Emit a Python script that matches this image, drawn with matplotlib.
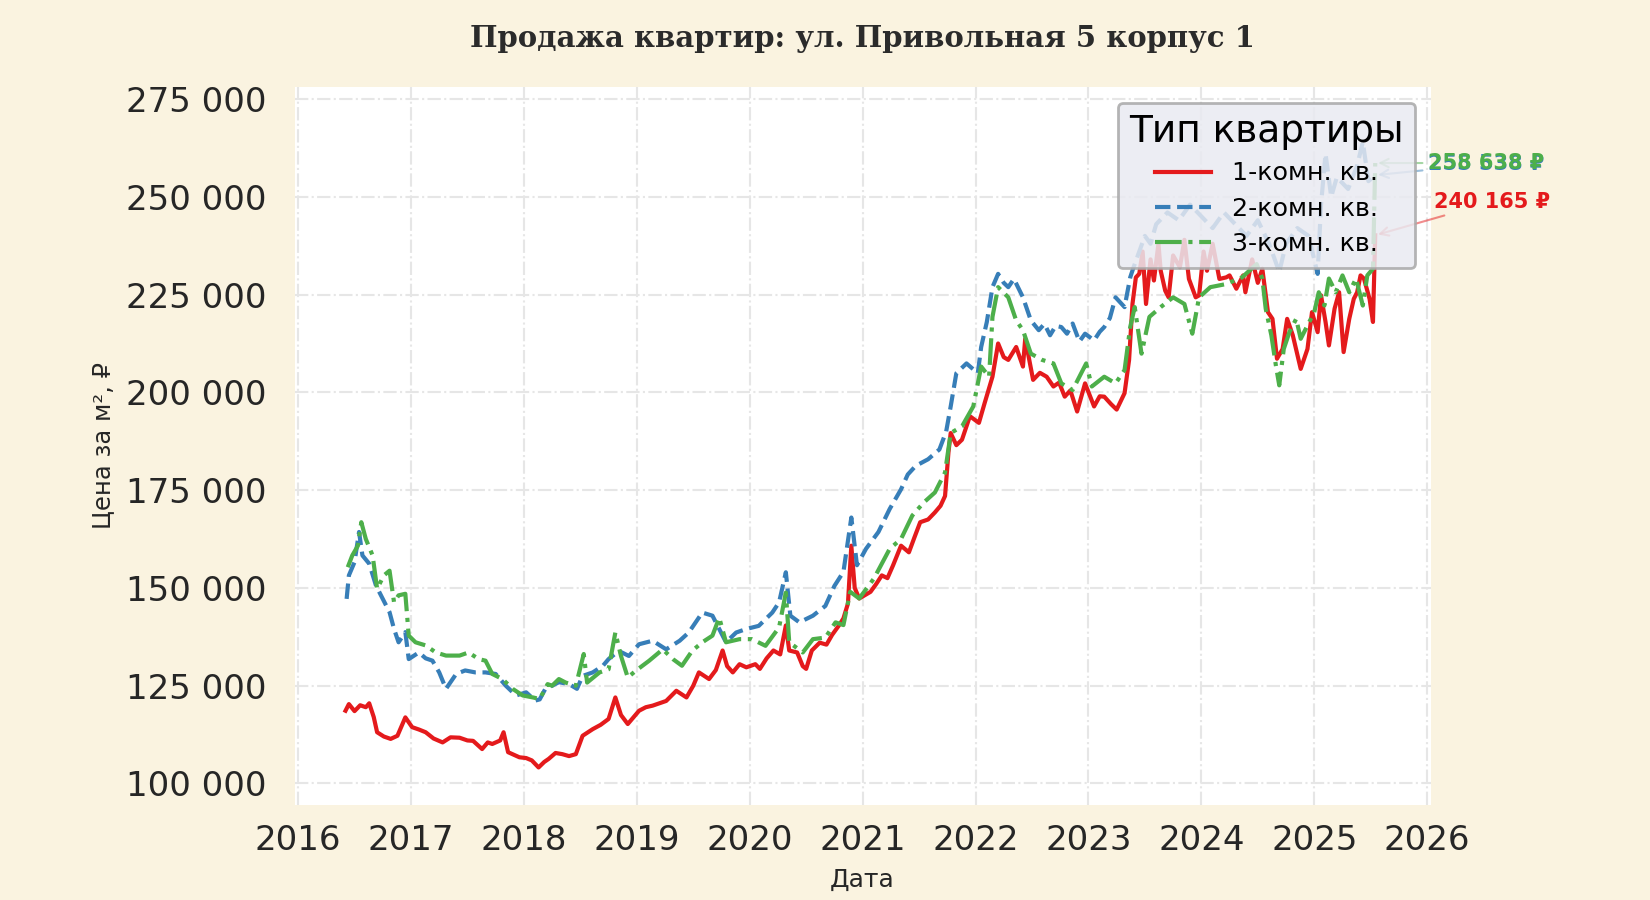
import matplotlib
matplotlib.use("Agg")
import matplotlib.pyplot as plt
from matplotlib.ticker import FuncFormatter, MultipleLocator

# ---- данные (годы в десятичном виде, цена за м2 в тыс. руб.) ----
years_1k = [2016.42, 2016.45, 2016.50, 2016.55, 2016.60, 2016.63, 2016.67, 2016.70, 2016.76, 2016.82,
            2016.88, 2016.95, 2017.01, 2017.07, 2017.13, 2017.20, 2017.28, 2017.35, 2017.43, 2017.50,
            2017.55, 2017.63, 2017.68, 2017.72, 2017.79, 2017.82, 2017.86, 2017.96, 2018.02, 2018.07,
            2018.13, 2018.18, 2018.22, 2018.28, 2018.34, 2018.40, 2018.46, 2018.52, 2018.61, 2018.68,
            2018.75, 2018.81, 2018.86, 2018.92, 2019.02, 2019.08, 2019.14, 2019.20, 2019.26, 2019.35,
            2019.44, 2019.50, 2019.55, 2019.64, 2019.70, 2019.76, 2019.80, 2019.85, 2019.91, 2019.97,
            2020.05, 2020.09, 2020.15, 2020.21, 2020.27, 2020.32, 2020.35, 2020.42, 2020.47, 2020.50,
            2020.55, 2020.62, 2020.68, 2020.73, 2020.79, 2020.83, 2020.87, 2020.90, 2020.93, 2020.97,
            2021.07, 2021.12, 2021.17, 2021.22, 2021.27, 2021.34, 2021.41, 2021.46, 2021.51, 2021.58,
            2021.64, 2021.69, 2021.73, 2021.76, 2021.78, 2021.83, 2021.88, 2021.95, 2022.03, 2022.08,
            2022.15, 2022.20, 2022.25, 2022.29, 2022.36, 2022.42, 2022.44, 2022.51, 2022.57, 2022.63,
            2022.69, 2022.74, 2022.79, 2022.84, 2022.90, 2022.97, 2023.05, 2023.10, 2023.14, 2023.20,
            2023.25, 2023.32, 2023.36, 2023.39, 2023.42, 2023.45, 2023.48, 2023.51, 2023.55, 2023.58,
            2023.62, 2023.64, 2023.68, 2023.71, 2023.75, 2023.81, 2023.85, 2023.89, 2023.95, 2023.98,
            2024.02, 2024.05, 2024.10, 2024.16, 2024.22, 2024.25, 2024.31, 2024.37, 2024.39, 2024.45,
            2024.50, 2024.54, 2024.59, 2024.63, 2024.67, 2024.72, 2024.76, 2024.81, 2024.88, 2024.94,
            2024.98, 2025.03, 2025.06, 2025.10, 2025.13, 2025.18, 2025.22, 2025.26, 2025.31, 2025.35,
            2025.38, 2025.41, 2025.44, 2025.49, 2025.52, 2025.54]
price_1k = [118.6, 120.3, 118.5, 120.0, 119.5, 120.5, 117.0, 113.1, 112.0, 111.4,
            112.2, 116.9, 114.4, 113.8, 113.1, 111.5, 110.5, 111.8, 111.7, 111.0,
            110.9, 108.8, 110.5, 110.1, 111.0, 113.1, 108.0, 106.7, 106.5, 105.9,
            104.1, 105.5, 106.3, 107.8, 107.5, 107.0, 107.5, 112.2, 113.9, 115.0,
            116.5, 122.0, 117.5, 115.2, 118.6, 119.5, 119.9, 120.5, 121.1, 123.7,
            122.0, 125.0, 128.4, 126.7, 129.0, 134.0, 130.0, 128.4, 130.5, 129.7,
            130.5, 129.3, 132.0, 134.0, 133.0, 140.4, 134.0, 133.5, 130.0, 129.3,
            134.0, 136.0, 135.5, 138.0, 140.4, 142.2, 146.0, 160.8, 150.0, 147.3,
            149.0, 151.0, 153.2, 152.5, 155.8, 160.8, 159.1, 163.0, 166.8, 167.5,
            169.3, 171.0, 173.5, 184.6, 189.6, 186.5, 187.9, 193.9, 192.2, 197.2,
            204.0, 212.5, 209.0, 208.3, 211.6, 206.6, 213.7, 203.2, 205.0, 204.0,
            201.5, 202.5, 198.9, 200.5, 195.1, 202.3, 196.4, 199.0, 198.9, 197.0,
            195.6, 199.8, 208.3, 222.6, 229.4, 230.3, 236.0, 222.6, 234.0, 228.6,
            238.0, 231.1, 226.0, 224.3, 235.0, 232.0, 239.0, 229.0, 224.3, 224.8,
            236.0, 231.1, 238.0, 229.0, 229.4, 229.9, 226.5, 229.9, 225.6, 234.0,
            228.0, 231.6, 220.5, 218.8, 208.6, 211.1, 218.8, 214.6, 206.0, 211.1,
            220.5, 215.4, 224.8, 218.0, 212.0, 221.4, 225.6, 210.3, 218.8, 223.9,
            225.6, 229.9, 229.1, 223.9, 218.0, 240.165]

years_2k = [2016.43, 2016.45, 2016.50, 2016.54, 2016.57, 2016.63, 2016.69, 2016.75, 2016.81, 2016.85,
            2016.89, 2016.95, 2016.98, 2017.07, 2017.13, 2017.19, 2017.25, 2017.31, 2017.40, 2017.48,
            2017.57, 2017.66, 2017.75, 2017.84, 2017.93, 2018.02, 2018.10, 2018.14, 2018.19, 2018.25,
            2018.31, 2018.40, 2018.47, 2018.52, 2018.61, 2018.70, 2018.75, 2018.84, 2018.93, 2019.02,
            2019.14, 2019.26, 2019.38, 2019.46, 2019.54, 2019.58, 2019.67, 2019.73, 2019.79, 2019.88,
            2019.97, 2020.08, 2020.20, 2020.26, 2020.32, 2020.36, 2020.44, 2020.56, 2020.67, 2020.75,
            2020.83, 2020.90, 2020.95, 2021.03, 2021.14, 2021.24, 2021.34, 2021.40, 2021.47, 2021.58,
            2021.68, 2021.74, 2021.78, 2021.83, 2021.92, 2022.02, 2022.05, 2022.10, 2022.15, 2022.20,
            2022.25, 2022.29, 2022.34, 2022.42, 2022.49, 2022.56, 2022.61, 2022.66, 2022.71, 2022.76,
            2022.81, 2022.86, 2022.92, 2022.97, 2023.05, 2023.10, 2023.14, 2023.19, 2023.24, 2023.32,
            2023.37, 2023.40, 2023.45, 2023.50, 2023.55, 2023.60, 2023.70, 2023.80, 2023.90, 2024.00,
            2024.10, 2024.20, 2024.30, 2024.40, 2024.50, 2024.60, 2024.69, 2024.75, 2024.85, 2024.95,
            2025.03, 2025.06, 2025.10, 2025.15, 2025.20, 2025.30, 2025.38, 2025.43, 2025.48, 2025.54]
price_2k = [147.2, 153.2, 156.6, 164.3, 158.3, 156.2, 150.6, 147.2, 143.8, 139.5,
            136.1, 138.7, 131.8, 133.5, 132.0, 131.4, 128.4, 124.2, 128.0, 128.9,
            128.4, 128.4, 128.0, 125.0, 122.5, 123.3, 121.2, 121.5, 124.2, 125.0,
            125.9, 125.4, 124.2, 127.5, 128.4, 130.1, 131.8, 133.9, 132.6, 135.6,
            136.5, 134.3, 136.5, 138.6, 142.0, 143.7, 142.9, 139.5, 136.1, 138.6,
            139.5, 140.3, 143.7, 146.3, 154.0, 142.9, 141.2, 142.9, 145.4, 150.5,
            154.1, 168.0, 155.8, 160.0, 164.3, 170.2, 175.2, 179.0, 181.2, 182.9,
            185.4, 190.0, 196.4, 204.9, 207.4, 204.9, 211.6, 218.0, 226.9, 230.3,
            228.0, 226.9, 229.0, 224.3, 218.4, 215.9, 217.5, 214.6, 217.0, 216.7,
            215.0, 217.6, 213.0, 215.0, 213.3, 215.5, 216.7, 219.0, 224.3, 221.8,
            229.4, 232.0, 236.0, 240.0, 238.0, 243.0, 246.0, 244.0, 248.0, 245.0,
            242.0, 246.0, 243.0, 240.0, 244.0, 238.0, 230.8, 238.0, 242.0, 240.0,
            230.3, 248.0, 261.0, 250.0, 255.0, 252.0, 258.0, 264.0, 254.0, 255.538]

years_3k = [2016.44, 2016.48, 2016.53, 2016.56, 2016.60, 2016.66, 2016.70, 2016.76, 2016.81, 2016.85,
            2016.89, 2016.95, 2016.98, 2017.04, 2017.13, 2017.22, 2017.31, 2017.43, 2017.51, 2017.60,
            2017.66, 2017.72, 2017.81, 2017.90, 2017.99, 2018.08, 2018.14, 2018.21, 2018.25, 2018.31,
            2018.37, 2018.46, 2018.53, 2018.56, 2018.67, 2018.75, 2018.81, 2018.86, 2018.92, 2018.99,
            2019.11, 2019.23, 2019.32, 2019.40, 2019.49, 2019.58, 2019.67, 2019.73, 2019.79, 2019.91,
            2020.02, 2020.14, 2020.26, 2020.32, 2020.35, 2020.47, 2020.56, 2020.67, 2020.76, 2020.83,
            2020.89, 2020.97, 2021.10, 2021.24, 2021.34, 2021.44, 2021.54, 2021.64, 2021.73, 2021.78,
            2021.88, 2021.98, 2022.05, 2022.12, 2022.15, 2022.20, 2022.29, 2022.36, 2022.42, 2022.49,
            2022.59, 2022.69, 2022.76, 2022.86, 2022.98, 2023.03, 2023.14, 2023.24, 2023.32, 2023.37,
            2023.41, 2023.47, 2023.54, 2023.64, 2023.75, 2023.85, 2023.92, 2023.98, 2024.08, 2024.22,
            2024.36, 2024.49, 2024.54, 2024.57, 2024.62, 2024.66, 2024.69, 2024.73, 2024.78, 2024.84,
            2024.88, 2024.94, 2025.00, 2025.04, 2025.09, 2025.13, 2025.19, 2025.25, 2025.31, 2025.37,
            2025.43, 2025.47, 2025.52, 2025.54]
price_3k = [155.3, 158.3, 160.8, 166.8, 162.5, 158.3, 149.8, 153.2, 154.4, 146.3,
            148.1, 148.5, 137.8, 136.1, 135.3, 133.5, 132.7, 132.7, 133.5, 131.8,
            131.4, 128.0, 126.7, 124.2, 122.5, 122.0, 121.6, 125.4, 125.0, 126.7,
            125.8, 125.0, 133.1, 125.8, 128.4, 129.2, 138.6, 132.6, 127.1, 128.8,
            131.4, 134.3, 131.8, 130.1, 133.9, 136.1, 137.8, 142.4, 136.1, 136.9,
            136.9, 135.2, 139.9, 148.8, 136.1, 133.5, 136.9, 137.3, 141.2, 140.5,
            149.0, 147.3, 152.4, 160.0, 162.5, 168.5, 171.8, 174.4, 179.5, 189.6,
            191.3, 196.4, 206.6, 204.0, 219.3, 226.9, 224.3, 218.4, 215.9, 209.9,
            208.3, 207.4, 202.3, 200.6, 207.4, 201.5, 204.0, 202.3, 205.7, 216.7,
            221.8, 209.9, 219.3, 221.8, 224.3, 222.6, 215.0, 224.3, 226.9, 227.7,
            229.4, 232.8, 229.1, 221.4, 214.6, 206.9, 201.8, 211.1, 215.4, 218.8,
            213.7, 217.1, 220.5, 225.6, 222.2, 229.1, 225.6, 229.9, 225.6, 229.1,
            222.2, 229.9, 231.6, 258.638]

series = [
    ("1-комн. кв.", years_1k, price_1k, "#e41a1c", "-", (42, 24)),
    ("2-комн. кв.", years_2k, price_2k, "#377eb8", "--", (38, 8)),
    ("3-комн. кв.", years_3k, price_3k, "#4daf4a", "-.", (38, 0)),
]

BG = "#faf3e0"


def rub(x, pos=None):
    return f"{x:,.0f}".replace(",", " ")


fig = plt.figure(figsize=(16.5, 9), dpi=100, facecolor=BG)
ax = fig.add_axes([0.1786, 0.106, 0.6884, 0.797])
ax.set_facecolor("white")
for s in ax.spines.values():
    s.set_visible(False)

for name, xs, ys, color, ls, off in series:
    vals = [v * 1000 for v in ys]
    ax.plot(xs, vals, color=color, linestyle=ls, linewidth=3, label=name)
    ax.annotate(f"{rub(vals[-1])} ₽", xy=(xs[-1], vals[-1]), xytext=off,
                textcoords="offset points", color=color, fontsize=15,
                fontweight="bold", va="center", annotation_clip=False,
                arrowprops=dict(arrowstyle="->", color=color, alpha=0.5, lw=1.5))

ax.set_xlim(2015.97, 2026.03)
ax.set_ylim(94600, 278000)
ax.xaxis.set_major_locator(MultipleLocator(1))
ax.xaxis.set_major_formatter(FuncFormatter(lambda x, p: f"{int(round(x))}"))
ax.yaxis.set_major_formatter(FuncFormatter(rub))
ax.set_yticks([100000, 125000, 150000, 175000, 200000, 225000, 250000, 275000])
ax.tick_params(axis="both", labelsize=24.5, length=0, labelcolor="#262626")
ax.tick_params(axis="y", pad=20)
ax.tick_params(axis="x", pad=14)
ax.grid(True, color="#e6e6e6", linestyle="-.", linewidth=1.5)

ax.set_xlabel("Дата", fontsize=18, color="#262626", labelpad=8)
ax.set_ylabel("Цена за м², ₽", fontsize=17.5, color="#262626", labelpad=8)
ax.set_title("Продажа квартир: ул. Привольная 5 корпус 1", family="DejaVu Serif",
             fontweight="bold", fontsize=21, color="#2b2b2b", pad=29)

leg = ax.legend(title="Тип квартиры", loc="upper right", fontsize=18.3, title_fontsize=27,
                frameon=True, fancybox=True, framealpha=0.85, facecolor="#e9eaf1",
                edgecolor="#a8a8a8", borderpad=0.45, labelspacing=0.45, handlelength=2.2,
                borderaxespad=0.6)
leg.get_frame().set_linewidth(2)

fig.savefig("out.png", dpi=100, facecolor=BG)
